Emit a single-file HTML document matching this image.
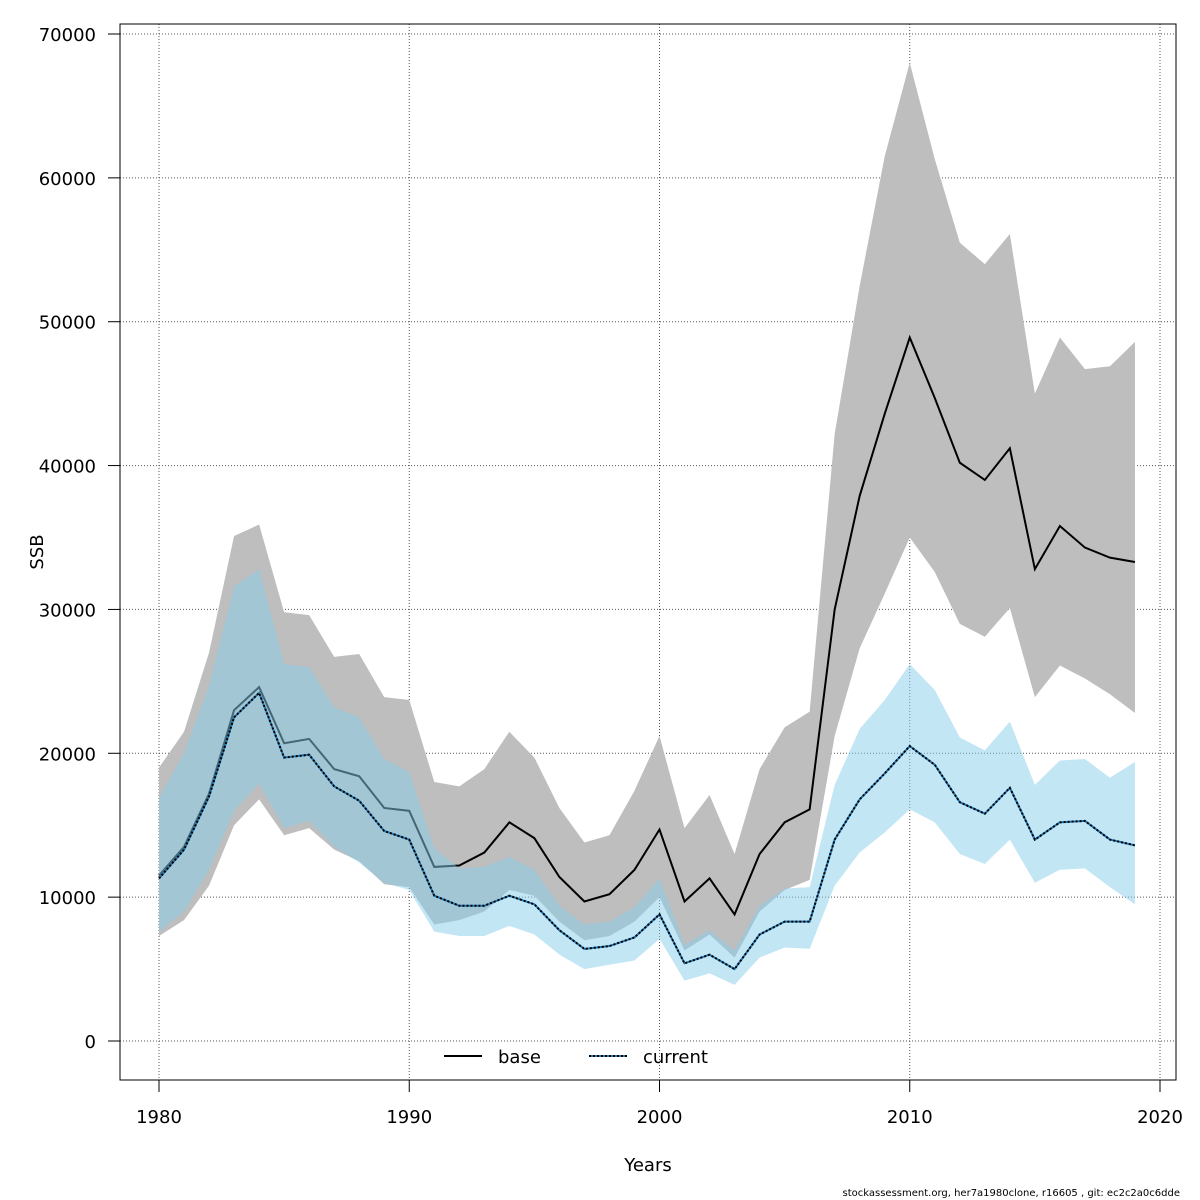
<!DOCTYPE html>
<html><head><meta charset="utf-8"><style>
html,body{margin:0;padding:0;background:#fff;}
svg{display:block;font-family:"DejaVu Sans","Liberation Sans",sans-serif;}
</style></head><body>
<svg id="chart" width="1200" height="1200" viewBox="0 0 1200 1200">
<g id="grid"></g>
<g id="bands"></g>
<rect x="120" y="24" width="1056" height="1056" fill="none" stroke="#000" stroke-width="1"/>
<g id="axes"></g>
<text x="648" y="1171" font-size="18" text-anchor="middle">Years</text>
<text x="43" y="552" font-size="18" text-anchor="middle" transform="rotate(-90 43 552)">SSB</text>
<g>
<g>
<line x1="444" y1="1056" x2="482" y2="1056" stroke="#000" stroke-width="2"/>
<text x="498" y="1063" font-size="18">base</text></g>
<g>
<line x1="589" y1="1056" x2="627" y2="1056" stroke="#1f77b4" stroke-width="2"/>
<line x1="589" y1="1056" x2="627" y2="1056" stroke="#000" stroke-width="2" stroke-dasharray="2,2"/>
<text x="643" y="1063" font-size="18">current</text></g>
</g>
<text x="1180" y="1196" font-size="10" text-anchor="end">stockassessment.org, her7a1980clone, r16605 , git: ec2c2a0c6dde</text>
</svg>
<script>
const years=[];for(let y=1980;y<=2019;y++)years.push(y);
const baseMid=[11500,13500,17200,23000,24600,20700,21000,18900,18400,16200,16000,12100,12200,13100,15200,14100,11400,9700,10200,11900,14700,9700,11300,8800,13000,15200,16100,30000,37900,43600,48900,44700,40200,39000,41200,32800,35800,34300,33600,33300];
const baseHi=[19000,21500,27000,35100,35900,29800,29600,26700,26900,23900,23700,18000,17700,18900,21500,19700,16200,13800,14300,17400,21200,14800,17100,13000,18900,21800,22900,42200,52500,61500,68000,61300,55500,54000,56100,45000,48900,46700,46900,48600];
const baseLo=[7300,8400,10800,15000,16800,14300,14800,13300,12500,10900,10700,8100,8400,9000,10500,10100,8300,7000,7300,8300,10000,6300,7400,5800,9000,10500,11200,21200,27300,31100,35000,32600,29000,28100,30100,23900,26100,25200,24100,22800];
const curMid=[11300,13300,17000,22500,24200,19700,19900,17700,16700,14600,14000,10100,9400,9400,10100,9500,7700,6400,6600,7200,8800,5400,6000,5000,7400,8300,8300,14000,16800,18600,20500,19200,16600,15800,17600,14000,15200,15300,14000,13600];
const curHi=[16900,20000,24700,31600,32800,26200,26000,23200,22500,19600,18700,13400,12000,12100,12800,11900,9400,8100,8300,9300,11300,6700,7700,6300,9400,10600,10700,17800,21700,23700,26200,24400,21100,20200,22200,17800,19500,19600,18300,19400];
const curLo=[7600,9000,11900,16000,17900,14800,15300,13500,12400,11000,10500,7600,7300,7300,8000,7400,6000,5000,5300,5600,7100,4200,4700,3900,5800,6500,6400,10800,13100,14500,16100,15200,13000,12300,14000,11000,11900,12000,10700,9500];
const xTicks=[1980,1990,2000,2010,2020];
const yTicks=[0,10000,20000,30000,40000,50000,60000,70000];
const NS='http://www.w3.org/2000/svg';
const X=v=>159+(v-1980)*(1160-159)/40;
const Y=v=>1041-v*(1041-34)/70000;
function mk(t,a,p){const e=document.createElementNS(NS,t);for(const k in a)e.setAttribute(k,a[k]);p.appendChild(e);return e;}
const grid=document.getElementById('grid'),axes=document.getElementById('axes'),bands=document.getElementById('bands');
xTicks.forEach(t=>{
 const g=mk('line',{x1:X(t),x2:X(t),y1:24,y2:1080,stroke:'#555','stroke-dasharray':'1,2','stroke-width':1},grid);
 
 
 const tk=mk('line',{x1:X(t),x2:X(t),y1:1080,y2:1092,stroke:'#000'},axes);
 
 
 const tx=mk('text',{x:X(t),y:1123,'font-size':18,'text-anchor':'middle'},axes);tx.textContent=t;
 
 
});
yTicks.forEach(t=>{
 const g=mk('line',{x1:120,x2:1176,y1:Y(t),y2:Y(t),stroke:'#555','stroke-dasharray':'1,2','stroke-width':1},grid);
 
 
 const tk=mk('line',{x1:108,x2:120,y1:Y(t),y2:Y(t),stroke:'#000'},axes);
 
 
 const tx=mk('text',{x:96,y:Y(t)+7,'font-size':18,'text-anchor':'end'},axes);tx.textContent=t;
 
 
});
function band(hi,lo,fill,name){
 let pts=years.map((y,i)=>X(y)+','+Y(hi[i]));
 pts=pts.concat(years.slice().reverse().map((y,j)=>X(y)+','+Y(lo[years.length-1-j])));
 const p=mk('polygon',{points:pts.join(' '),fill:fill},bands);
 
 
}
function line(v,attrs,name){
 const p=mk('polyline',Object.assign({points:years.map((y,i)=>X(y)+','+Y(v[i])).join(' '),fill:'none'},attrs),bands);
 
 
}
band(baseHi,baseLo,'#bebebe','base-band');
line(baseMid,{stroke:'#000','stroke-width':2},'base-line');
band(curHi,curLo,'rgba(135,206,235,0.5)','current-band');
line(curMid,{stroke:'#1f77b4','stroke-width':2},'current-line-color');
line(curMid,{stroke:'#000','stroke-width':2,'stroke-dasharray':'2,2'},'current-line');
</script>
</body></html>
